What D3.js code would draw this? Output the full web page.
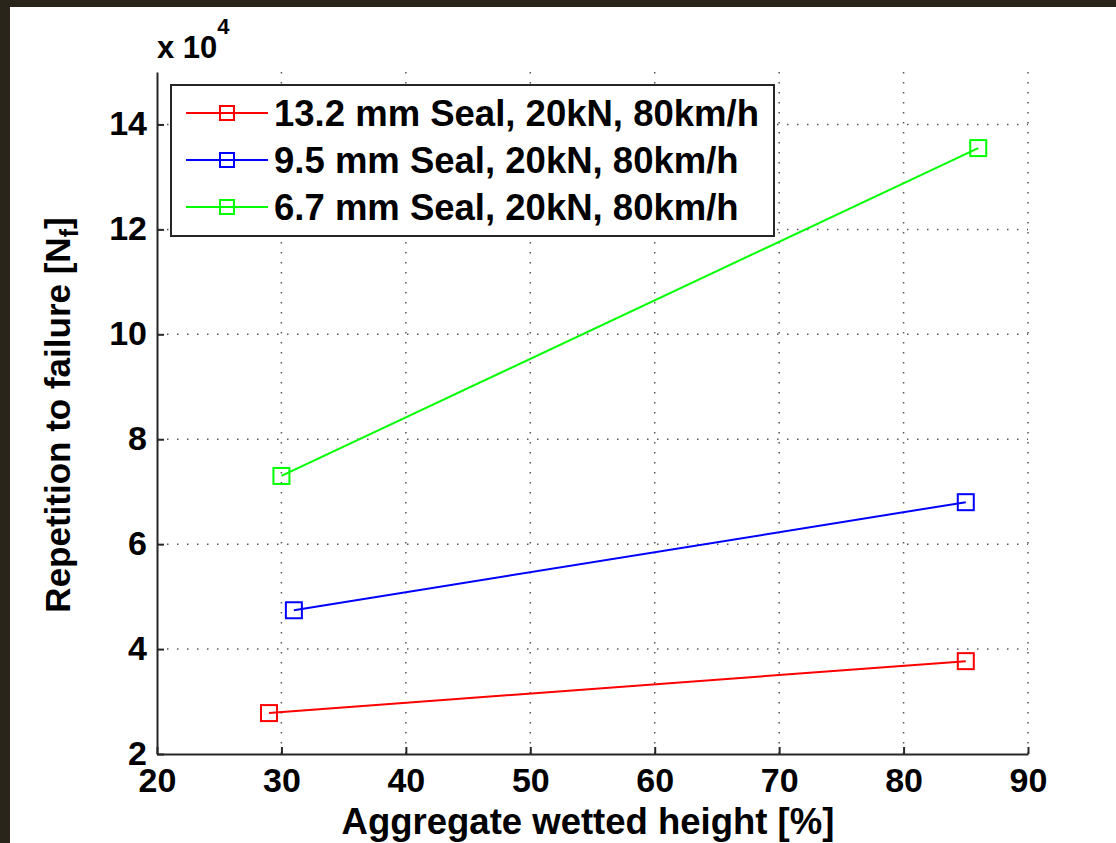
<!DOCTYPE html>
<html>
<head>
<meta charset="utf-8">
<script src="https://cdn.jsdelivr.net/npm/d3@7"></script>
<style>
  body { margin: 0; background: #29251a; }
  svg { display: block; }
  text { font-family: "Liberation Sans", Arial, sans-serif; font-weight: bold; fill: #000; }
</style>
</head>
<body>
<svg width="1116" height="843"></svg>
<script>
// data (y values in units of 10^4)
var seriesNames = ["13.2 mm Seal, 20kN, 80km/h", "9.5 mm Seal, 20kN, 80km/h", "6.7 mm Seal, 20kN, 80km/h"];
var seriesColors = ["#ff0000", "#0000ff", "#00ff00"];
var sealX13 = [29, 85];
var sealY13 = [2.78, 3.77];
var sealX95 = [31, 85];
var sealY95 = [4.74, 6.80];
var sealX67 = [30, 86];
var sealY67 = [7.30, 13.55];
var xTicks = [20, 30, 40, 50, 60, 70, 80, 90];
var yTicks = [2, 4, 6, 8, 10, 12, 14];

var series = [
    { name: seriesNames[0], color: seriesColors[0], pts: d3.zip(sealX13, sealY13) },
    { name: seriesNames[1], color: seriesColors[1], pts: d3.zip(sealX95, sealY95) },
    { name: seriesNames[2], color: seriesColors[2], pts: d3.zip(sealX67, sealY67) }
];

var svg = d3.select("svg");
// white figure area inside the dark frame
svg.append("rect").attr("x", 10).attr("y", 7).attr("width", 1106).attr("height", 836).attr("fill", "#fff");

var margin = { left: 157, top: 72 },
    width = 1028 - 157,
    height = 754 - 72;
var g = svg.append("g").attr("transform", "translate(" + margin.left + "," + margin.top + ")");

var x = d3.scaleLinear().domain([20, 90]).range([0, width]);
var y = d3.scaleLinear().domain([2, 15]).range([height, 0]);

// dotted grid
g.append("g").selectAll("line").data(xTicks.slice(1)).enter().append("line")
    .attr("x1", function (d) { return x(d) }).attr("x2", function (d) { return x(d) })
    .attr("y1", 0).attr("y2", height)
    .attr("stroke", "#555").attr("stroke-width", 1.5).attr("stroke-dasharray", "1.5,8.5");
g.append("g").selectAll("line").data(yTicks.slice(1)).enter().append("line")
    .attr("x1", 0).attr("x2", width)
    .attr("y1", function (d) { return y(d) }).attr("y2", function (d) { return y(d) })
    .attr("stroke", "#555").attr("stroke-width", 1.5).attr("stroke-dasharray", "1.5,8.5");

// axes (inward ticks, no box)
var xAxis = g.append("g")
    .attr("transform", "translate(0," + height + ")")
    .call(d3.axisBottom(x).tickValues(xTicks).tickSizeInner(-7).tickSizeOuter(0).tickPadding(14));
var yAxis = g.append("g")
    .call(d3.axisLeft(y).tickValues(yTicks).tickSizeInner(-7).tickSizeOuter(0).tickPadding(10));
[xAxis, yAxis].forEach(function (a) {
    a.select(".domain").attr("stroke", "#262626").attr("stroke-width", 2);
    a.selectAll(".tick line").attr("stroke", "#262626").attr("stroke-width", 2);
    a.selectAll(".tick text").attr("font-size", 34).attr("font-family", null).attr("fill", "#000");
});
xAxis.selectAll(".tick text").attr("dy", "0.71em");
yAxis.selectAll(".tick text").attr("dy", "0.3em");

// lines and square markers
var line = d3.line()
    .x(function (d) { return x(d[0]) })
    .y(function (d) { return y(d[1]) });
series.forEach(function (s) {
    g.append("path").datum(s.pts)
        .attr("fill", "none").attr("stroke", s.color).attr("stroke-width", 2)
        .attr("d", line);
    g.append("g").selectAll("rect").data(s.pts).enter().append("rect")
        .attr("x", function (d) { return x(d[0]) - 8 })
        .attr("y", function (d) { return y(d[1]) - 8 })
        .attr("width", 16).attr("height", 16)
        .attr("fill", "none").attr("stroke", s.color).attr("stroke-width", 2);
});

// exponent label
var ex = svg.append("text").attr("x", 157).attr("y", 58).attr("font-size", 31);
ex.append("tspan").text("x 10");
ex.append("tspan").attr("dy", -24).attr("font-size", 22).text("4");

// axis titles
svg.append("text").attr("x", 588).attr("y", 834).attr("text-anchor", "middle")
    .attr("font-size", 36.5).text("Aggregate wetted height [%]");
var yl = svg.append("text").attr("transform", "translate(70,415) rotate(-90)")
    .attr("text-anchor", "middle").attr("font-size", 35);
yl.append("tspan").text("Repetition to failure [N");
yl.append("tspan").attr("font-size", 25).attr("dy", 8).text("f");
yl.append("tspan").attr("dy", -8).text("]");

// legend
var lg = svg.append("g").attr("transform", "translate(171,85)");
lg.append("rect").attr("width", 603).attr("height", 151)
    .attr("fill", "#fff").attr("stroke", "#262626").attr("stroke-width", 2);
series.forEach(function (s, i) {
    var cy = 28 + i * 47;
    lg.append("line").attr("x1", 15).attr("x2", 97).attr("y1", cy).attr("y2", cy)
        .attr("stroke", s.color).attr("stroke-width", 2);
    lg.append("rect").attr("x", 49).attr("y", cy - 7).attr("width", 14).attr("height", 14)
        .attr("fill", "none").attr("stroke", s.color).attr("stroke-width", 2);
    lg.append("text").attr("x", 103).attr("y", cy).attr("dy", "0.36em")
        .attr("font-size", 36.5).text(s.name);
});
</script>
</body>
</html>
